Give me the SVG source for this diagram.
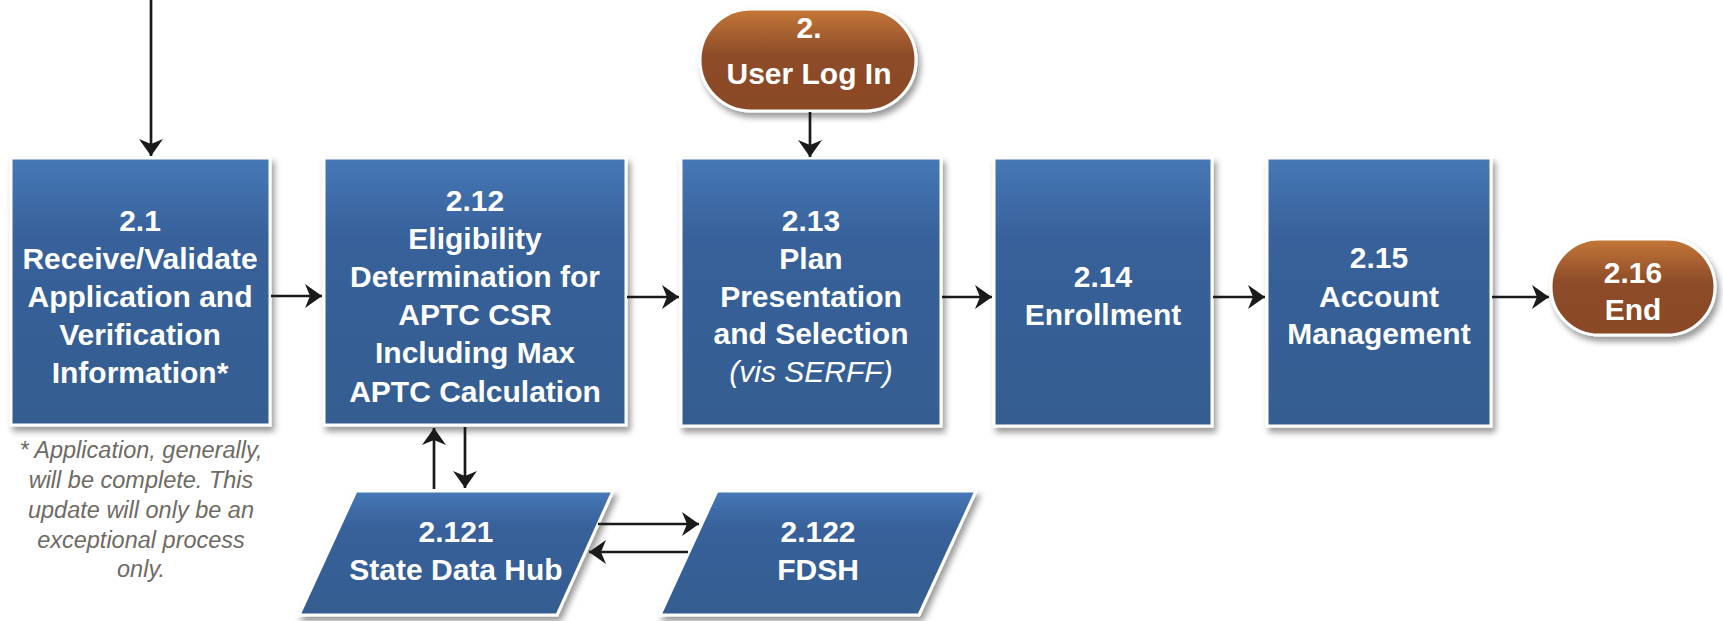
<svg xmlns="http://www.w3.org/2000/svg" width="1723" height="621" viewBox="0 0 1723 621">
<style>
.box{fill:url(#blueGrad);stroke:#ffffff;stroke-width:3;filter:url(#shadow)}
.oval{fill:url(#brownGrad);stroke:#ffffff;stroke-width:3;filter:url(#shadow)}
.t{font-family:"Liberation Sans",Arial,sans-serif;font-weight:bold;font-size:30px;fill:#ffffff;text-anchor:middle}
.ti{font-family:"Liberation Sans",Arial,sans-serif;font-style:italic;font-size:30px;fill:#ffffff;text-anchor:middle}
.note{font-family:"Liberation Sans",Arial,sans-serif;font-style:italic;font-size:23.5px;fill:#6e6a64;text-anchor:middle}
.conn{stroke:#1a1a1a;stroke-width:2.7;fill:none;marker-end:url(#arrow)}
</style>
<defs>
<linearGradient id="blueGrad" x1="0" y1="0" x2="0" y2="1">
<stop offset="0" stop-color="#4678b6"/>
<stop offset="0.3" stop-color="#37619a"/>
<stop offset="1" stop-color="#355d90"/>
</linearGradient>
<linearGradient id="brownGrad" x1="0" y1="0" x2="0" y2="1">
<stop offset="0" stop-color="#c57738"/>
<stop offset="0.45" stop-color="#8d4c29"/>
<stop offset="1" stop-color="#8a4827"/>
</linearGradient>
<filter id="shadow" x="-10%" y="-10%" width="125%" height="130%">
<feDropShadow dx="3" dy="5" stdDeviation="3" flood-color="#000000" flood-opacity="0.4"/>
</filter>
<marker id="arrow" markerUnits="userSpaceOnUse" markerWidth="18" markerHeight="26" refX="17" refY="12" orient="auto">
<path d="M0,0 L17,12 L0,24 L5,12 Z" fill="#1a1a1a"/>
</marker>
</defs>

<g id="node-2-1">
<rect class="box" x="11" y="158" width="259" height="267"/>
<text class="t" x="140" y="231">2.1</text>
<text class="t" x="140" y="269">Receive/Validate</text>
<text class="t" x="140" y="307">Application and</text>
<text class="t" x="140" y="345">Verification</text>
<text class="t" x="140" y="383">Information*</text>
</g>

<g id="note">
<text class="note" x="141" y="458">* Application, generally,</text>
<text class="note" x="141" y="488">will be complete. This</text>
<text class="note" x="141" y="518">update will only be an</text>
<text class="note" x="141" y="548">exceptional process</text>
<text class="note" x="141" y="577">only.</text>
</g>

<g id="node-2-12">
<rect class="box" x="324" y="158" width="302" height="267"/>
<text class="t" x="475" y="211">2.12</text>
<text class="t" x="475" y="249">Eligibility</text>
<text class="t" x="475" y="287">Determination for</text>
<text class="t" x="475" y="325">APTC CSR</text>
<text class="t" x="475" y="363">Including Max</text>
<text class="t" x="475" y="402">APTC Calculation</text>
</g>

<g id="node-2-13">
<rect class="box" x="681" y="158" width="260" height="268"/>
<text class="t" x="811" y="231">2.13</text>
<text class="t" x="811" y="269">Plan</text>
<text class="t" x="811" y="307">Presentation</text>
<text class="t" x="811" y="344">and Selection</text>
<text class="ti" x="811" y="382">(vis SERFF)</text>
</g>

<g id="node-2-14">
<rect class="box" x="994" y="158" width="218" height="268"/>
<text class="t" x="1103" y="287">2.14</text>
<text class="t" x="1103" y="325">Enrollment</text>
</g>

<g id="node-2-15">
<rect class="box" x="1267" y="158" width="224" height="268"/>
<text class="t" x="1379" y="268">2.15</text>
<text class="t" x="1379" y="307">Account</text>
<text class="t" x="1379" y="344">Management</text>
</g>

<g id="node-2">
<rect class="oval" x="700" y="9" width="216" height="102" rx="51" ry="51"/>
<text class="t" x="809" y="38">2.</text>
<text class="t" x="809" y="84">User Log In</text>
</g>

<g id="node-2-16">
<rect class="oval" x="1551" y="239" width="164" height="96" rx="48" ry="48"/>
<text class="t" x="1633" y="283">2.16</text>
<text class="t" x="1633" y="320">End</text>
</g>

<g id="node-2-121">
<polygon class="box" points="356,491 613,491 557,615 299,615"/>
<text class="t" x="456" y="542">2.121</text>
<text class="t" x="456" y="580">State Data Hub</text>
</g>

<g id="node-2-122">
<polygon class="box" points="717,491 976,491 919,615 660,615"/>
<text class="t" x="818" y="542">2.122</text>
<text class="t" x="818" y="580">FDSH</text>
</g>

<g id="connectors">
<line class="conn" x1="151" y1="0" x2="151" y2="156"/>
<line class="conn" x1="271" y1="296" x2="322" y2="296"/>
<line class="conn" x1="627" y1="297" x2="679" y2="297"/>
<line class="conn" x1="942" y1="297" x2="992" y2="297"/>
<line class="conn" x1="1213" y1="297" x2="1265" y2="297"/>
<line class="conn" x1="1492" y1="297" x2="1549" y2="297"/>
<line class="conn" x1="810" y1="112" x2="810" y2="157"/>
<line class="conn" x1="434" y1="489" x2="434" y2="428"/>
<line class="conn" x1="465" y1="427" x2="465" y2="488"/>
<line class="conn" x1="598" y1="524" x2="699" y2="524"/>
<line class="conn" x1="688" y1="552" x2="589" y2="552"/>
</g>
</svg>
